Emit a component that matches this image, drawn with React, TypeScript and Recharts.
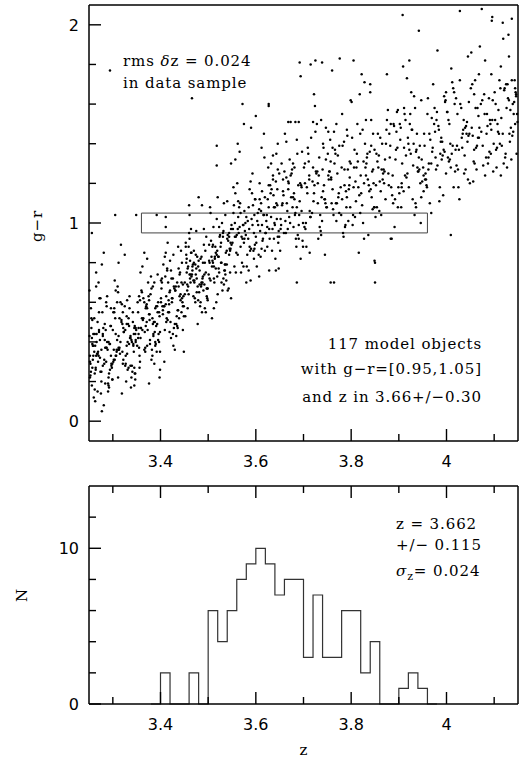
import React from 'react'
import { ScatterChart, Scatter, LineChart, Line, XAxis, YAxis, ReferenceArea } from 'recharts'

// scatter sample, token "zzz,gg" -> z = 3 + zzz/1000, g-r = gg/100
const band325 = `258,31 271,45 252,22 286,60 263,38 279,28 255,52 292,17 267,34 251,66 283,41 274,25 260,12 296,48 269,30 254,57
289,36 276,20 262,44 298,27 257,51 281,08 265,33 293,39 272,62 253,23 285,46 268,15 299,29 261,35 278,55 256,42 290,19 270,70
282,31 264,26 295,48 259,38 275,14 287,58 252,33 266,44 291,22 277,05 284,37 261,52 297,28 273,41 256,18 288,63 268,34 280,47
254,25 294,39 263,10 271,55 286,30 259,44 299,21 276,36 265,68 283,49 257,27 291,40 270,33 262,16 296,57 279,43 253,29 287,37
268,50 292,24 274,62 294,177 300,46 256,95 281,85 265,75 277,79 258,38 284,19 251,43 297,29 269,35 262,24 288,40 255,47 273,32
291,18 264,27 279,44 299,21 286,37 252,30 271,46 294,26 259,33 266,40 282,29 290,15 257,39 276,25 296,33`
const band330 = `316,40 303,55 337,28 322,47 345,18 308,36 330,61 312,43 341,25 327,33 305,52 334,39 319,14 348,47 301,30 325,58
339,41 311,22 344,35 320,49 306,66 317,89 333,27 347,44 314,37 329,53 302,31 338,17 323,45 343,39 309,60 331,26 325,84 346,48
315,34 336,42 304,71 321,29 342,55 312,37 328,20 349,46 307,33 335,63 318,51 340,40 326,28 303,57 344,44 313,36 332,49 347,24
310,68 337,42 322,31 301,55 345,47 329,38 316,60 339,22 306,44 333,52 320,35 348,41 311,65 327,29 342,50 305,104 349,104 312,80
330,34 318,50 346,24 309,41 335,57 302,36 323,45 340,28 314,52 331,40 347,21 308,35 326,46 343,38 319,59 337,43 304,31 329,49
345,27 321,55 311,36 334,48 348,40 306,33`
const band335 = `367,45 352,60 383,33 361,52 395,41 374,70 356,27 389,57 369,48 351,38 379,64 398,22 363,51 385,44 358,75 392,35
371,59 354,47 387,29 366,85 376,54 397,40 360,66 381,31 393,49 372,57 355,37 372,82 388,45 364,62 399,26 377,51 353,42 384,68
368,35 394,55 359,47 380,73 390,39 370,58 357,30 386,50 375,63 396,44 362,78 382,36 353,55 391,48 366,60 378,41 387,70 356,33
398,53 373,46 361,65 389,38 369,57 384,49 394,74 358,42 376,61 399,35 364,52 381,67 376,19 392,104 371,50 389,40 355,63 385,43
366,36 397,55 359,47 378,39 391,58 354,44 383,52 368,37 395,60 362,46 377,54 399,45 357,61 388,50 372,38 393,58`
const band340 = `418,55 403,72 436,47 412,63 427,38 445,80 407,58 431,66 415,51 440,74 422,42 401,60 411,85 434,53 447,69 419,45
425,62 438,77 405,56 449,35 416,70 430,49 442,64 420,81 408,58 433,43 423,72 446,60 413,52 437,88 402,67 428,47 441,75 417,61
444,55 409,83 432,68 421,50 448,63 414,77 426,44 435,70 404,58 443,86 419,65 439,52 410,73 424,60 447,46 406,79 429,67 436,56
415,90 445,62 401,71 433,49 422,76 411,59 438,68 427,84 449,53 408,30 430,36 411,103 411,98 442,61 416,55 403,70 435,48 420,66
447,58 412,50 426,72 440,63 405,54 431,66 418,59 444,70 409,46 424,62 437,56 414,76 449,58 428,68 401,62`
const band345 = `472,62 458,78 487,55 463,70 494,86 451,64 478,49 466,74 490,66 455,82 483,58 469,71 461,92 497,63 475,77 452,53
486,69 464,85 479,61 492,74 457,57 470,80 499,67 460,95 488,72 473,60 454,84 482,69 467,76 495,55 459,88 476,65 489,73 462,81
484,60 471,70 491,97 456,66 479,78 465,85 498,62 474,74 453,90 485,68 468,79 493,57 477,83 462,72 496,93 481,65 457,77 470,86
488,70 454,80 499,61 475,96 463,74 486,83 458,68 491,89 466,163 460,109 480,113 487,109 461,104 464,97 478,68 455,75 493,80
469,63 482,76 451,70 474,84 497,67 465,73 489,80 459,64 471,71 484,82 456,69 495,75 476,72 453,88 486,70 467,78 492,69 480,81
461,74 498,67 473,79`
const band350 = `523,75 509,88 541,66 514,82 531,95 503,72 547,87 517,60 536,79 506,91 528,70 544,84 511,98 534,76 520,64 549,89
502,81 538,71 525,94 512,78 546,86 518,102 533,69 507,83 540,92 522,77 548,62 515,88 529,100 501,74 537,85 524,93 543,67 510,80
532,96 519,73 545,87 505,105 539,79 527,90 513,70 548,97 521,83 535,76 504,108 542,91 516,85 530,66 549,99 508,78 526,88 544,95
512,72 536,104 519,86 503,80 531,93 546,75 523,98 510,89 508,52 512,57 518,139 518,129 548,130 520,113 533,110 540,111 527,80
505,71 539,86 516,77 544,93 522,83 532,72 509,81 547,90 518,84 536,74 502,89 528,80 541,94 514,83 535,79`
const band355 = `571,80 558,93 589,71 563,103 595,86 552,97 580,70 567,110 598,89 574,78 556,100 584,92 562,84 592,115 577,96 569,75
553,105 587,88 573,99 561,120 596,82 579,94 565,108 590,87 555,78 583,101 570,93 599,112 559,85 586,97 576,106 551,90 593,125
581,78 566,98 597,104 572,92 557,115 588,86 578,100 564,95 594,109 585,76 553,118 575,90 591,102 562,97 582,84 598,112 568,105
556,93 589,121 574,99 597,87 585,108 560,94 558,75 600,93 557,132 562,140 575,150 590,148 572,160 566,136 580,103 593,99 568,88
554,109 587,117 576,92 563,111 596,95`
const band360 = `621,95 606,84 638,108 613,99 645,117 602,78 629,92 617,104 649,125 624,88 608,112 635,97 641,82 611,106 627,119 646,93
603,101 632,130 619,86 643,110 609,96 636,122 623,104 648,77 614,91 631,115 605,99 640,108 626,128 612,87 644,102 620,95 633,117
607,107 647,90 618,133 639,100 625,112 610,83 642,121 628,97 604,105 637,114 615,92 646,127 622,101 634,86 611,110 648,96 630,119
616,104 643,135 601,90 627,108 640,99 613,116 649,93 636,124 600,154 627,160 627,159 617,145 636,134 646,140 612,138 642,76 628,76
607,73 619,113 632,103 645,109 608,120 624,98 638,92`
const band365 = `672,100 658,114 690,92 664,123 683,105 651,86 696,118 667,97 678,130 655,109 688,94 661,145 693,120 670,103 681,112
664,141 699,88 676,127 653,99 686,108 668,121 694,82 659,95 680,115 671,132 691,104 656,110 684,92 675,125 662,101 697,136 678,113
652,97 689,119 666,106 681,128 699,100 657,116 685,88 673,124 692,111 686,142 686,70 663,95 695,119 677,108 654,130 690,99 692,181
668,117 682,104 694,174 660,126 698,91 674,113 687,135 652,102 669,120 668,151 673,151 683,151 690,151 679,98 665,110 696,106 657,122`
const band370 = `718,105 703,120 736,96 711,131 744,112 706,88 729,126 715,103 741,140 722,115 702,98 733,133 748,108 712,122 725,146
739,101 707,118 715,180 731,92 720,128 746,110 709,138 735,104 720,151 743,119 722,165 704,97 727,125 724,159 738,113 725,182
713,106 747,132 730,120 728,150 705,100 741,116 716,143 732,124 749,108 710,135 737,94 723,119 701,128 737,152 745,112 739,181
714,103 726,126 742,138 708,115 734,98 745,84 719,121 703,130 747,148 730,110 712,124 713,85 740,127 721,111`
const band375 = `768,110 754,126 787,98 761,138 795,117 752,146 779,104 765,130 791,113 758,122 760,177 783,95 772,134 798,108 756,142
786,119 764,146 793,127 769,101 751,135 781,112 769,150 797,123 775,139 762,107 789,116 757,131 784,93 771,125 776,183 792,144
759,110 780,128 796,119 766,137 788,99 781,155 753,122 774,115 799,130 763,104 785,141 778,118 755,126 790,108 767,135 791,147
773,113 752,124 794,101 782,139 761,117 797,131 770,110 799,162 758,123 757,70 764,70 786,127 775,105`
const band380 = `801,161 827,120 812,135 845,107 806,128 805,182 838,116 819,145 831,124 803,99 842,139 815,118 826,131 849,108 813,150
835,122 808,103 816,85 839,136 821,115 818,165 846,127 824,147 810,111 833,133 822,175 847,120 804,104 829,140 841,117 811,128
836,94 828,171 807,137 843,113 820,124 831,152 848,108 814,131 837,119 802,143 825,100 844,126 817,114 834,135 840,170 840,166
809,121 842,152 823,109 832,130 805,118 846,145 819,105 830,128 849,137 849,81 850,80 850,70 827,92`
const band385 = `872,112 857,128 889,150 863,104 894,137 852,119 880,145 867,125 898,108 875,152 855,131 884,118 861,143 891,98 870,126
877,157 853,135 886,114 866,122 895,146 859,106 881,133 873,140 899,118 875,175 864,127 888,110 856,145 893,132 869,120 883,150
851,103 897,138 878,125 885,92 862,116 890,149 871,132 854,108 887,124 896,156 865,140 879,119 858,134 892,112 874,147 868,127
898,157 860,121 882,139 883,92`
const band390 = `918,125 903,142 935,110 911,158 942,133 906,120 927,147 908,205 946,100 909,179 922,137 939,128 914,152 901,115 931,140
947,162 916,123 917,173 936,108 925,135 904,148 940,126 921,118 922,182 944,139 912,155 929,112 907,130 938,145 926,166 949,121
915,134 933,104 902,150 943,127 920,140 910,116 934,158 948,132 913,124 928,147 905,108 937,137 924,155 945,120 942,197 919,143
930,129 947,113 911,138 932,164 941,126 923,150 906,118 936,136`
const band395 = `968,130 953,145 986,118 961,163 994,137 956,125 979,152 965,110 991,141 972,170 951,128 983,149 958,119 996,136 975,158
962,127 989,143 968,105 977,133 999,166 955,122 984,147 971,138 993,114 960,155 981,129 966,142 997,161 952,124 987,135 981,187
974,150 959,118 990,132 964,145 998,162 978,127 954,139 985,111 969,153 992,134 957,122 976,146 995,164 963,130 988,141 952,116
980,156 970,136 999,125`
const band400 = `1019,137 1004,152 1037,125 1012,171 1046,144 1007,132 1029,160 1015,118 1041,149 1010,178 1033,138 1002,156 1024,127
1048,145 1016,166 1038,134 1006,150 1027,112 1044,141 1020,163 1009,128 1035,147 1023,155 1049,120 1013,139 1031,158 1003,133
1028,207 1028,172 1042,145 1018,126 1036,152 1008,140 1025,118 1047,161 1011,135 1039,148 1021,129 1001,156 1032,143 1045,122
1014,168 1026,137 1043,151 1005,131 1045,184 1034,145 1017,160 1040,127 1022,139 1009,94`
const band405 = `1068,143 1052,186 1087,130 1061,158 1094,147 1056,121 1079,165 1064,139 1091,152 1060,172 1083,133 1053,148 1072,160
1098,126 1066,143 1085,155 1058,137 1068,175 1092,150 1070,189 1077,129 1055,144 1089,163 1074,208 1062,138 1096,152 1081,124
1051,168 1073,146 1093,135 1065,158 1081,182 1057,131 1086,149 1075,162 1099,140 1063,127 1080,155 1054,170 1090,136 1069,148
1097,162 1059,130 1084,145 1094,175 1095,202 1076,139 1096,204 1067,154 1088,133 1058,165`
const band410 = `1118,145 1103,160 1136,132 1111,172 1144,150 1106,138 1129,163 1114,124 1141,155 1108,146 1122,168 1147,135 1102,152
1114,179 1133,141 1120,130 1145,166 1118,201 1109,157 1119,193 1138,144 1125,170 1104,137 1131,162 1149,151 1113,168 1127,128
1140,146 1101,166 1134,157 1130,195 1116,139 1131,184 1146,165 1107,150 1137,172 1123,133 1142,161 1137,203 1110,145 1128,170
1148,155 1105,128 1121,167 1135,148 1143,172 1112,140 1139,160 1124,135 1146,164 1115,153 1132,145 1126,158 1144,168`

const bands = [band325, band330, band335, band340, band345, band350, band355, band360, band365,
  band370, band375, band380, band385, band390, band395, band400, band405, band410]

const points = bands.flatMap(s =>
  s.trim().split(/\s+/).map(t => {
    const [a, b] = t.split(',')
    return { z: 3 + Number(a) / 1000, gr: Number(b) / 100 }
  })
)

// histogram of the 117 selected objects, bins of 0.02 in z
const histEdges = [3.38, 3.40, 3.42, 3.44, 3.46, 3.48, 3.50, 3.52, 3.54, 3.56, 3.58, 3.60, 3.62, 3.64, 3.66, 3.68,
  3.70, 3.72, 3.74, 3.76, 3.78, 3.80, 3.82, 3.84, 3.86, 3.88, 3.90, 3.92, 3.94, 3.96, 3.98]
const histCounts = [0, 2, 0, 0, 2, 0, 6, 4, 6, 8, 9, 10, 9, 7, 8, 8,
  3, 7, 3, 3, 6, 6, 2, 4, 0, 0, 1, 2, 1, 0, 0]
const histData = histEdges.map((z, i) => ({ z, n: histCounts[i] }))

// selection box g-r = [0.95, 1.05], z in 3.66 +/- 0.30
const selBox = { z1: 3.36, z2: 3.96, g1: 0.95, g2: 1.05 }

const zDomain = [3.25, 4.15]
const zTicks = [3.3, 3.4, 3.5, 3.6, 3.7, 3.8, 3.9, 4.0, 4.1]
const zLabels = [3.4, 3.6, 3.8, 4]
const grDomain = [-0.1, 2.1]
const grTicks = [0, 0.2, 0.4, 0.6, 0.8, 1, 1.2, 1.4, 1.6, 1.8, 2]
const grLabels = [0, 1, 2]
const nDomain = [0, 14]
const nTicks = [0, 2, 4, 6, 8, 10, 12]
const nLabels = [0, 10]

const INK = '#000'
const TICK_FONT = '"DejaVu Sans", Arial, sans-serif'
const TEXT_FONT = '"DejaVu Serif", "Liberation Serif", serif'
const axisLine = { stroke: INK, strokeWidth: 1.5 }

const isIn = (list: number[], v: number) => list.some(l => Math.abs(l - v) < 1e-6)
const fmt = (v: number) => String(Number(v.toFixed(2)))

// tick marks point into the frame; they sit where the axis puts each tick
function makeXTick(side: 'bottom' | 'top') {
  return (props: any) => {
    const x = Number(props.x)
    const y = Number(props.y)
    const v = props.payload.value
    const major = isIn(zLabels, v)
    const len = major ? 12 : 7
    const y0 = side === 'bottom' ? y - len : y
    return (
      <g>
        <rect x={x - 0.7} y={y0} width={1.4} height={len} fill={INK} />
        {side === 'bottom' && major && (
          <text x={x} y={y + 26} textAnchor="middle" fontFamily={TICK_FONT} fontSize={16} fill={INK}>
            {fmt(v)}
          </text>
        )}
      </g>
    )
  }
}

function makeYTick(side: 'left' | 'right', labels: number[]) {
  return (props: any) => {
    const x = Number(props.x)
    const y = Number(props.y)
    const v = props.payload.value
    const major = isIn(labels, v)
    const len = major ? 12 : 7
    const x0 = side === 'left' ? x : x - len
    return (
      <g>
        <rect x={x0} y={y - 0.7} width={len} height={1.4} fill={INK} />
        {side === 'left' && major && (
          <text x={x - 10} y={y + 6} textAnchor="end" fontFamily={TICK_FONT} fontSize={16} fill={INK}>
            {fmt(v)}
          </text>
        )}
      </g>
    )
  }
}

const xTickBottom = makeXTick('bottom')
const xTickTop = makeXTick('top')
const grTickLeft = makeYTick('left', grLabels)
const grTickRight = makeYTick('right', grLabels)
const nTickLeft = makeYTick('left', nLabels)
const nTickRight = makeYTick('right', nLabels)

const Dot = (p: any) => <circle cx={p.cx} cy={p.cy} r={1.25} fill={INK} />

function TopPanel() {
  return (
    <ScatterChart width={519} height={490} margin={{ top: 4, right: 0, bottom: 0, left: 0 }}>
      <XAxis xAxisId="b" dataKey="z" type="number" domain={zDomain} ticks={zTicks} interval={0}
        height={49} tickSize={0} tickMargin={0} axisLine={axisLine} tickLine={false} tick={xTickBottom} />
      <XAxis xAxisId="t" orientation="top" dataKey="z" type="number" domain={zDomain} ticks={zTicks} interval={0}
        height={1} tickSize={0} tickMargin={0} axisLine={axisLine} tickLine={false} tick={xTickTop} />
      <YAxis yAxisId="l" dataKey="gr" type="number" domain={grDomain} ticks={grTicks} interval={0}
        width={89} tickSize={0} tickMargin={0} axisLine={axisLine} tickLine={false} tick={grTickLeft} />
      <YAxis yAxisId="r" orientation="right" dataKey="gr" type="number" domain={grDomain} ticks={grTicks} interval={0}
        width={1} tickSize={0} tickMargin={0} axisLine={axisLine} tickLine={false} tick={grTickRight} />
      <ReferenceArea xAxisId="b" yAxisId="l" x1={selBox.z1} x2={selBox.z2} y1={selBox.g1} y2={selBox.g2}
        fill="none" fillOpacity={0} stroke="#444" strokeWidth={1} />
      <Scatter xAxisId="b" yAxisId="l" data={points} dataKey="gr" shape={Dot} isAnimationActive={false} />
    </ScatterChart>
  )
}

function BottomPanel() {
  return (
    <LineChart width={519} height={281} data={histData} margin={{ top: 5, right: 0, bottom: 0, left: 0 }}>
      <XAxis xAxisId="b" dataKey="z" type="number" domain={zDomain} ticks={zTicks} interval={0}
        height={57} tickSize={0} tickMargin={0} axisLine={axisLine} tickLine={false} tick={xTickBottom} />
      <XAxis xAxisId="t" orientation="top" dataKey="z" type="number" domain={zDomain} ticks={zTicks} interval={0}
        height={1} tickSize={0} tickMargin={0} axisLine={axisLine} tickLine={false} tick={xTickTop} />
      <YAxis yAxisId="l" type="number" domain={nDomain} ticks={nTicks} interval={0}
        width={89} tickSize={0} tickMargin={0} axisLine={axisLine} tickLine={false} tick={nTickLeft} />
      <YAxis yAxisId="r" orientation="right" type="number" domain={nDomain} ticks={nTicks} interval={0}
        width={1} tickSize={0} tickMargin={0} axisLine={axisLine} tickLine={false} tick={nTickRight} />
      <Line xAxisId="b" yAxisId="l" type="stepAfter" dataKey="n" stroke="#333" strokeWidth={1.2}
        dot={false} isAnimationActive={false} />
    </LineChart>
  )
}

function Notes() {
  const t = { fontFamily: TEXT_FONT, fontSize: 15, letterSpacing: 0.9, fill: INK }
  return (
    <svg width={519} height={761} style={{ position: 'absolute', left: 0, top: 0, pointerEvents: 'none' }}>
      <text x={123} y={66} {...t}>rms <tspan fontStyle="italic">δ</tspan>z = 0.024</text>
      <text x={123} y={88} {...t}>in data sample</text>
      <text x={482} y={349} textAnchor="end" {...t}>117 model objects</text>
      <text x={482} y={374} textAnchor="end" {...t}>with g−r=[0.95,1.05]</text>
      <text x={482} y={402} textAnchor="end" {...t}>and z in 3.66+/−0.30</text>
      <text x={396} y={529} {...t}>z = 3.662</text>
      <text x={396} y={550} {...t}>+/− 0.115</text>
      <text x={396} y={576} {...t}>
        <tspan fontStyle="italic">σ</tspan>
        <tspan fontSize={11} dy={4}>z</tspan>
        <tspan dy={-4}>= 0.024</tspan>
      </text>
      <text x={42} y={226} textAnchor="middle" transform="rotate(-90 42 226)" {...t}>g−r</text>
      <text x={27} y={595} textAnchor="middle" transform="rotate(-90 27 595)" {...t}>N</text>
      <text x={304} y={755} textAnchor="middle" {...t}>z</text>
    </svg>
  )
}

export default function App() {
  return (
    <div style={{ position: 'absolute', left: 0, top: 0, width: 519, height: 761, background: '#fff' }}>
      <div style={{ position: 'absolute', left: 0, top: 0 }}>
        <TopPanel />
      </div>
      <div style={{ position: 'absolute', left: 0, top: 480 }}>
        <BottomPanel />
      </div>
      <Notes />
    </div>
  )
}
